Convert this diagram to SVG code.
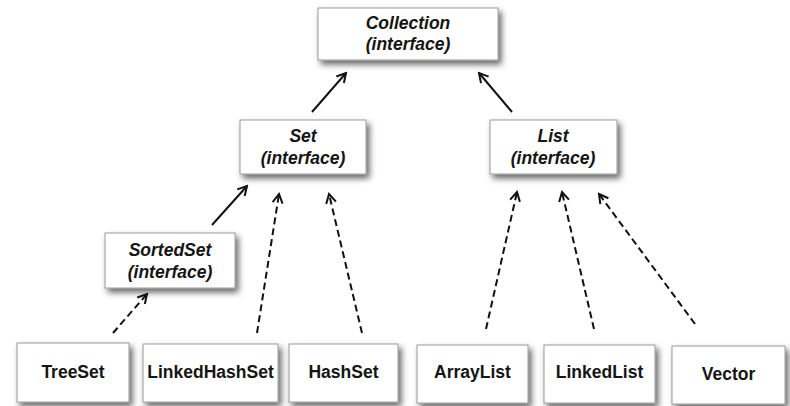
<svg xmlns="http://www.w3.org/2000/svg" width="790" height="406" viewBox="0 0 790 406">
<defs>
<filter id="sh" x="-20%" y="-20%" width="150%" height="160%">
<feDropShadow dx="3" dy="4" stdDeviation="3" flood-color="#000" flood-opacity="0.6"/>
</filter>
<marker id="ah" viewBox="-12 -7 14 14" refX="0" refY="0" markerWidth="14" markerHeight="14" markerUnits="userSpaceOnUse" orient="auto">
<path d="M -9 -5 L 0 0 L -9 5" fill="none" stroke="#111" stroke-width="2"/>
</marker>
</defs>
<style>
.box{fill:#fff;stroke:#9a9a9a;stroke-width:1;filter:url(#sh)}
.t{font-family:"Liberation Sans",Arial,sans-serif;font-size:17.5px;font-weight:bold;fill:#151515;text-anchor:middle}
.i{font-style:italic}
.solid{stroke:#111;stroke-width:2;fill:none;marker-end:url(#ah)}
.dash{stroke:#111;stroke-width:2;fill:none;stroke-dasharray:7 4;marker-end:url(#ah)}
</style>
<rect width="790" height="406" fill="#fff"/>
<g id="connectors">
<line class="solid" x1="312" y1="112" x2="346" y2="73"/>
<line class="solid" x1="512" y1="112" x2="479" y2="73"/>
<line class="solid" x1="212" y1="225" x2="247" y2="186"/>
<line class="dash" x1="113" y1="333" x2="147" y2="294"/>
<line class="dash" x1="257" y1="333" x2="279" y2="194"/>
<line class="dash" x1="362" y1="333" x2="329" y2="194"/>
<line class="dash" x1="486" y1="329" x2="517" y2="192"/>
<line class="dash" x1="594" y1="329" x2="562" y2="192"/>
<line class="dash" x1="695" y1="324" x2="599" y2="194"/>
</g>
<g id="collection">
<rect class="box" x="318" y="8" width="180" height="52"/>
<text class="t i" x="408" y="29">Collection</text>
<text class="t i" x="408" y="50">(interface)</text>
</g>
<g id="set">
<rect class="box" x="240" y="120" width="126" height="54"/>
<text class="t i" x="303" y="142">Set</text>
<text class="t i" x="303" y="164">(interface)</text>
</g>
<g id="list">
<rect class="box" x="490" y="120" width="127" height="54"/>
<text class="t i" x="553" y="142">List</text>
<text class="t i" x="553" y="164">(interface)</text>
</g>
<g id="sortedset">
<rect class="box" x="105" y="233" width="130" height="55"/>
<text class="t i" x="170" y="256">SortedSet</text>
<text class="t i" x="170" y="278">(interface)</text>
</g>
<g id="treeset">
<rect class="box" x="17" y="343" width="112" height="59"/>
<text class="t" x="73" y="378">TreeSet</text>
</g>
<g id="linkedhashset">
<rect class="box" x="143" y="344" width="135" height="58"/>
<text class="t" x="210.5" y="378">LinkedHashSet</text>
</g>
<g id="hashset">
<rect class="box" x="289" y="344" width="109" height="58"/>
<text class="t" x="343.5" y="378">HashSet</text>
</g>
<g id="arraylist">
<rect class="box" x="417" y="345" width="111" height="58"/>
<text class="t" x="472.5" y="378">ArrayList</text>
</g>
<g id="linkedlist">
<rect class="box" x="544" y="345" width="111" height="58"/>
<text class="t" x="599.5" y="378">LinkedList</text>
</g>
<g id="vector">
<rect class="box" x="672" y="346" width="113" height="58"/>
<text class="t" x="728.5" y="380">Vector</text>
</g>
</svg>
